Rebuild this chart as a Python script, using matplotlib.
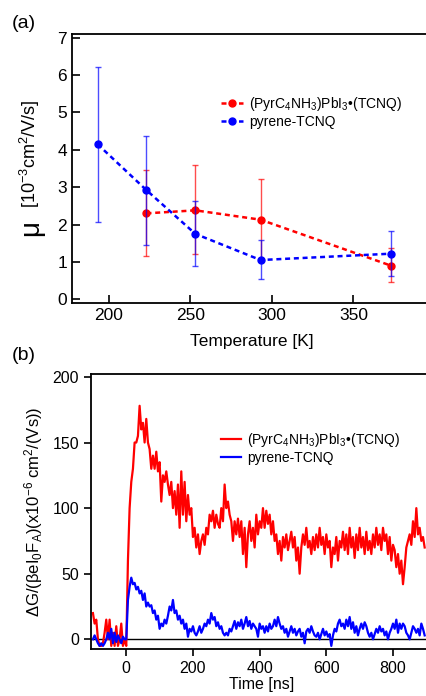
import matplotlib
matplotlib.use("Agg")
import matplotlib.pyplot as plt
import numpy as np

plt.rcParams["font.family"] = ["Liberation Sans", "DejaVu Sans"]
plt.rcParams["mathtext.fontset"] = "custom"
plt.rcParams["mathtext.rm"] = "Liberation Sans"
plt.rcParams["mathtext.it"] = "Liberation Sans:italic"
plt.rcParams["mathtext.default"] = "regular"

# ---------------- data: (a) mobility vs temperature ----------------
temp_pyr = [223, 253, 293, 373]
mu_pyr = [2.30, 2.38, 2.13, 0.90]
lo_pyr = [1.15, 1.20, 1.05, 0.45]
hi_pyr = [3.46, 3.59, 3.22, 1.36]

temp_tcnq = [193, 223, 253, 293, 373]
mu_tcnq = [4.15, 2.92, 1.75, 1.05, 1.22]
lo_tcnq = [2.07, 1.46, 0.88, 0.53, 0.62]
hi_tcnq = [6.23, 4.37, 2.63, 1.58, 1.84]

# ---------------- data: (b) transient conductivity ----------------
time_ns = np.arange(-100, 900, 5)
sig_pyr = [
    20, 12, 15, 0, -5, -5, -3, 5, 15, 0,
    15, -5, 5, -5, 10, -5, 0, 12, -5, 0,
    -5, 60, 100, 120, 130, 150, 150, 155, 178, 160,
    165, 150, 168, 150, 145, 130, 140, 130, 143, 128,
    135, 105, 125, 120, 128, 118, 110, 120, 100, 113,
    95, 118, 85, 128, 95, 120, 90, 110, 95, 100,
    78, 85, 70, 80, 65, 75, 80, 72, 85, 80,
    95, 90, 98, 85, 95, 88, 85, 100, 90, 118,
    100, 105, 95, 90, 75, 90, 80, 92, 78, 90,
    65, 85, 55, 80, 90, 75, 85, 70, 95, 80,
    90, 85, 100, 85, 98, 88, 95, 80, 90, 75,
    80, 65, 75, 60, 78, 70, 80, 68, 75, 82,
    70, 78, 60, 70, 50, 70, 80, 72, 85, 70,
    75, 65, 78, 68, 80, 70, 85, 72, 78, 65,
    80, 70, 75, 55, 70, 65, 78, 60, 75, 70,
    82, 68, 80, 65, 85, 70, 78, 62, 80, 68,
    85, 70, 78, 65, 82, 68, 75, 65, 80, 70,
    85, 72, 80, 68, 85, 75, 80, 65, 78, 60,
    72, 68, 55, 65, 50, 60, 42, 55, 70, 75,
    80, 72, 90, 78, 100, 80, 85, 75, 78, 70,
]
sig_tcnq = [
    0, 3, 0, -3, -5, -3, -5, -3, 0, 5,
    0, 8, -3, 5, -2, 3, 0, -3, 2, 0,
    0, 30, 40, 47, 42, 43, 38, 40, 35, 37,
    30, 35, 25, 28, 25, 26, 20, 22, 15, 18,
    8, 12, 10, 15, 12, 18, 25, 22, 30, 20,
    22, 15, 18, 12, 15, 8, 12, 2, 8, 6,
    10, 5, 3, 6, 10, 5, 8, 12, 10, 15,
    12, 20, 15, 17, 10, 13, 8, 10, 5, 3,
    5, 3, 8, 6, 10, 14, 8, 13, 10, 15,
    8, 12, 17, 10, 14, 8, 12, 10, 8, 2,
    12, 8, 10, 5, 10, 6, 12, 8, 10, 15,
    10, 17, 12, 8, 10, 5, 8, 2, 6, 10,
    5, 8, 3, 6, 8, 2, 5, -3, 6, 8,
    5, 10, 6, 3, 2, 5, 0, 4, 8, 3,
    6, 2, 4, -5, 3, 8, 6, 12, 15, 10,
    12, 8, 15, 10, 17, 8, 13, 5, 10, 3,
    8, 12, 8, 13, 10, 5, 2, 5, 0, 4,
    8, 5, 10, 6, 8, 3, 6, 0, 5, 8,
    12, 8, 15, 5, 12, 8, 12, 10, 5, 3,
    0, 5, 10, 8, 5, 8, 3, 12, 8, 3,
]

label_pyr = r"(PyrC$_4$NH$_3$)PbI$_3$•(TCNQ)"
label_tcnq = "pyrene-TCNQ"
red = "#ff0000"
blue = "#0000ff"

fig = plt.figure(figsize=(4.26, 6.96), dpi=100)

# ---------------- panel (a) ----------------
ax1 = fig.add_axes([72 / 426, 1 - 303 / 696, 360 / 426, 269 / 696])
for t, m, lo, hi, c, lab in [
    (temp_pyr, mu_pyr, lo_pyr, hi_pyr, red, label_pyr),
    (temp_tcnq, mu_tcnq, lo_tcnq, hi_tcnq, blue, label_tcnq),
]:
    m = np.array(m)
    err = [m - np.array(lo), np.array(hi) - m]
    ax1.errorbar(t, m, yerr=err, fmt="none", ecolor=c, alpha=0.7,
                 elinewidth=1.0, capsize=2.5, capthick=1.0)
    ax1.plot(t, m, color=c, ls=(0, (2, 1.5)), lw=1.8, marker="o",
             ms=5, label=lab)

ax1.set_xlim(177.3, 398.2)
ax1.set_ylim(-0.1, 7.1)
ax1.set_xticks([200, 250, 300, 350])
ax1.set_yticks(range(0, 8))
ax1.tick_params(direction="in", length=6, width=1.2, labelsize=12.5)
for s in ax1.spines.values():
    s.set_linewidth(1.3)
ax1.set_xlabel("Temperature [K]", fontsize=12.5, labelpad=8)
ax1.legend(loc="upper left", bbox_to_anchor=(0.395, 0.80), frameon=False,
           fontsize=10, handlelength=1.6, handletextpad=0.4,
           labelspacing=0.15, borderpad=0)

fig.text(31 / 426, 1 - 228 / 696, "μ", rotation=90, fontsize=20,
         ha="center", va="center")
fig.text(30 / 426, 1 - 154 / 696, r"[10$^{-3}$cm$^2$/V/s]", rotation=90,
         fontsize=13, ha="center", va="center")
fig.text(12 / 426, 1 - 23 / 696, "(a)", fontsize=14, ha="left", va="center")

# ---------------- panel (b) ----------------
ax2 = fig.add_axes([90.7 / 426, 1 - 649.3 / 696, 341.3 / 426, 275 / 696])
ax2.axhline(0, color="black", lw=1.0)
ax2.plot(time_ns, sig_pyr, color=red, lw=1.6, label=label_pyr)
ax2.plot(time_ns, sig_tcnq, color=blue, lw=1.6, label=label_tcnq)
ax2.set_xlim(-106.7, 917)
ax2.set_ylim(-7.6, 202)
ax2.set_xticks([0, 200, 400, 600, 800])
ax2.set_yticks([0, 50, 100, 150, 200])
ax2.tick_params(direction="out", length=5, width=1.2, labelsize=11.5)
for s in ax2.spines.values():
    s.set_linewidth(1.3)
ax2.set_xlabel("Time [ns]", fontsize=11.5, labelpad=1)
ax2.set_ylabel(r"ΔG/(βeI$_0$F$_A$)(x10$^{-6}$ cm$^2$/(Vs))", fontsize=12,
               labelpad=5)
ax2.legend(loc="upper left", bbox_to_anchor=(0.36, 0.82), frameon=False,
           fontsize=10, handlelength=1.5, handletextpad=0.4,
           labelspacing=0.15, borderpad=0)
fig.text(12 / 426, 1 - 355 / 696, "(b)", fontsize=14, ha="left", va="center")

fig.savefig("out.png", dpi=100)
